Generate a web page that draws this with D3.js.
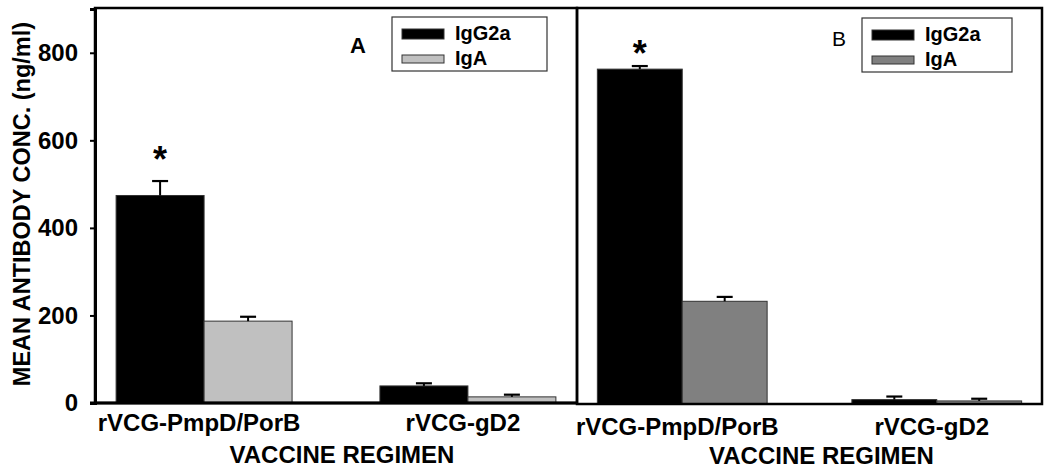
<!DOCTYPE html>
<html>
<head>
<meta charset="utf-8">
<script src="https://cdn.jsdelivr.net/npm/d3@7"></script>
<style>
  html, body { margin: 0; padding: 0; background: #fff; }
  svg { display: block; font-family: Arial, "Liberation Sans", sans-serif; }
</style>
</head>
<body>
<svg id="chart" width="1050" height="470"></svg>
<script>
// ---- data ----
const categories = ["rVCG-PmpD/PorB", "rVCG-gD2"];
const seriesNames = ["IgG2a", "IgA"];
const yTicks = [0, 200, 400, 600, 800];

const panelA_IgG2a = [474, 39];
const panelA_IgG2a_err = [33, 6];
const panelA_IgA = [187, 14];
const panelA_IgA_err = [10, 5];

const panelB_IgG2a = [763, 10];
const panelB_IgG2a_err = [7, 7];
const panelB_IgA = [234, 7];
const panelB_IgA_err = [10, 5];

const significant = ["*", ""];

const svg = d3.select("#chart");
const FONT = "Arial, 'Liberation Sans', sans-serif";

function drawPanel(cfg) {
  const g = svg.append("g");
  const x0 = d3.scaleBand().domain(categories)
    .range([cfg.left, cfg.right]).paddingInner(0.333).paddingOuter(0.08);
  const x1 = d3.scaleBand().domain(seriesNames).range([0, x0.bandwidth()]);
  const y = d3.scaleLinear().domain([0, 900]).range([cfg.bottom, cfg.top]);
  const colors = d3.scaleOrdinal().domain(seriesNames).range(["#000000", cfg.gray]);

  const rows = categories.map((c, i) => ({
    cat: c,
    vals: [
      { s: seriesNames[0], v: cfg.s1[i], e: cfg.e1[i] },
      { s: seriesNames[1], v: cfg.s2[i], e: cfg.e2[i] }
    ]
  }));

  const groups = g.selectAll("g.grp").data(rows).join("g")
    .attr("transform", d => `translate(${x0(d.cat)},0)`);

  groups.selectAll("rect").data(d => d.vals).join("rect")
    .attr("x", d => x1(d.s))
    .attr("width", x1.bandwidth())
    .attr("y", d => y(d.v))
    .attr("height", d => y(0) - y(d.v))
    .attr("fill", d => colors(d.s))
    .attr("stroke", "#333")
    .attr("stroke-width", 1);

  // error bars (upward only)
  const eb = groups.selectAll("g.eb").data(d => d.vals).join("g");
  eb.append("line")
    .attr("x1", d => x1(d.s) + x1.bandwidth() / 2)
    .attr("x2", d => x1(d.s) + x1.bandwidth() / 2)
    .attr("y1", d => y(d.v))
    .attr("y2", d => y(d.v + d.e))
    .attr("stroke", "#000").attr("stroke-width", 2);
  eb.append("line")
    .attr("x1", d => x1(d.s) + x1.bandwidth() / 2 - 8)
    .attr("x2", d => x1(d.s) + x1.bandwidth() / 2 + 8)
    .attr("y1", d => y(d.v + d.e))
    .attr("y2", d => y(d.v + d.e))
    .attr("stroke", "#000").attr("stroke-width", 2.2);

  // significance asterisks
  g.selectAll("text.sig").data(rows.filter((d, i) => significant[i]))
    .join("text")
    .attr("x", d => x0(d.cat) + x1(seriesNames[0]) + x1.bandwidth() / 2)
    .attr("y", d => y(d.vals[0].v + d.vals[0].e) - cfg.starGap)
    .attr("text-anchor", "middle")
    .style("font-size", "36px").style("font-weight", "bold")
    .style("font-family", FONT)
    .text(d => significant[categories.indexOf(d.cat)]);

  // frame
  g.append("rect")
    .attr("x", cfg.left).attr("y", cfg.top - 1)
    .attr("width", cfg.right - cfg.left).attr("height", cfg.bottom - cfg.top + 1)
    .attr("fill", "none").attr("stroke", "#000").attr("stroke-width", 2.5);

  // category labels
  g.selectAll("text.cat").data(categories).join("text")
    .attr("x", d => x0(d) + x0.bandwidth() / 2 - 5)
    .attr("y", cfg.bottom + cfg.catDy)
    .attr("text-anchor", "middle")
    .style("font-size", "24px").style("font-weight", "bold")
    .style("font-family", FONT)
    .text(d => d);

  // x title
  g.append("text")
    .attr("x", (cfg.left + cfg.right) / 2 + cfg.titleDx)
    .attr("y", cfg.bottom + cfg.titleDy)
    .attr("text-anchor", "middle")
    .style("font-size", "24px").style("font-weight", "bold")
    .style("font-family", FONT)
    .text("VACCINE REGIMEN");

  // panel letter
  g.append("text")
    .attr("x", cfg.letterX).attr("y", cfg.letterY)
    .attr("text-anchor", "middle")
    .style("font-size", cfg.letterSize + "px").style("font-weight", cfg.letterWeight)
    .style("font-family", FONT)
    .text(cfg.letter);

  // legend
  const lg = g.append("g").attr("transform", `translate(${cfg.legX},${cfg.legY})`);
  lg.append("rect").attr("x", 0).attr("y", 0)
    .attr("width", cfg.legW).attr("height", 54)
    .attr("fill", "#fff").attr("stroke", "#333").attr("stroke-width", 1.2);
  const items = lg.selectAll("g.item").data(seriesNames).join("g")
    .attr("transform", (d, i) => `translate(10,${i === 0 ? 12 : 38})`);
  items.append("rect")
    .attr("x", 0).attr("y", 0)
    .attr("width", 42).attr("height", (d, i) => i === 0 ? 10 : 8)
    .attr("fill", d => colors(d)).attr("stroke", "#333").attr("stroke-width", 1);
  items.append("text")
    .attr("x", 53).attr("y", (d, i) => i === 0 ? 11 : 10)
    .style("font-size", "20px").style("font-weight", "bold")
    .style("font-family", FONT)
    .text(d => d);

  return y;
}

// Panel A
const yA = drawPanel({
  left: 95, right: 577, top: 9, bottom: 403,
  gray: "#c0c0c0",
  s1: panelA_IgG2a, e1: panelA_IgG2a_err, s2: panelA_IgA, e2: panelA_IgA_err,
  starGap: 9, catDy: 28, titleDy: 60, titleDx: 6,
  letter: "A", letterX: 358, letterY: 53, letterSize: 22, letterWeight: "bold",
  legX: 392, legY: 17, legW: 155
});

// Panel B
drawPanel({
  left: 577, right: 1042, top: 9, bottom: 404,
  gray: "#808080",
  s1: panelB_IgG2a, e1: panelB_IgG2a_err, s2: panelB_IgA, e2: panelB_IgA_err,
  starGap: 0, catDy: 31, titleDy: 60, titleDx: 12,
  letter: "B", letterX: 839, letterY: 46, letterSize: 21, letterWeight: "normal",
  legX: 862, legY: 18, legW: 150
});

// Y axis (panel A)
const yAxis = d3.axisLeft(yA).tickValues(yTicks).tickSize(5).tickPadding(12);
const ax = svg.append("g").attr("transform", "translate(95,0)").call(yAxis);
ax.select(".domain").attr("stroke", "#000").attr("stroke-width", 3);
ax.selectAll(".tick line").attr("stroke", "#000").attr("stroke-width", 2);
ax.selectAll(".tick text")
  .style("font-size", "24px").style("font-weight", "bold")
  .style("font-family", FONT).attr("fill", "#000");

// bottom baseline extension for panel A
svg.append("line").attr("x1", 90).attr("x2", 577)
  .attr("y1", yA(0)).attr("y2", yA(0))
  .attr("stroke", "#000").attr("stroke-width", 3);

// Y title
svg.append("text")
  .attr("transform", `translate(30,${(yA(0) + yA(900)) / 2 - 2}) rotate(-90)`)
  .attr("text-anchor", "middle")
  .style("font-size", "23.5px").style("font-weight", "bold")
  .style("font-family", FONT)
  .text("MEAN ANTIBODY CONC. (ng/ml)");
</script>
</body>
</html>
